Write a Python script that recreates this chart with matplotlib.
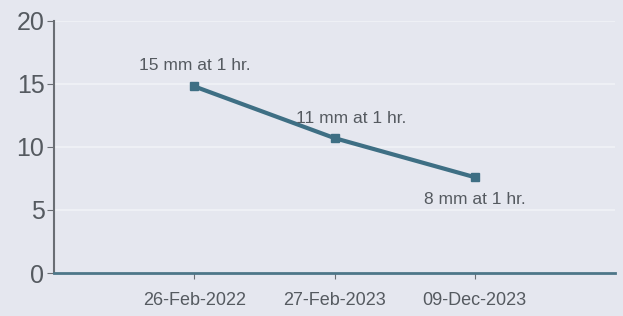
import numpy as np
import matplotlib.pyplot as plt

dates = ["26-Feb-2022", "27-Feb-2023", "09-Dec-2023"]
esr_values = [14.8, 10.7, 7.6]
point_labels = ["15 mm at 1 hr.", "11 mm at 1 hr.", "8 mm at 1 hr."]
y_ticks = [0, 5, 10, 15, 20]

plt.rcParams['font.family'] = ['Liberation Sans', 'DejaVu Sans']

bg = "#e5e7ef"
line_color = "#3e6f84"
text_color = "#555a60"

fig = plt.figure(figsize=(6.23, 3.16), dpi=100, facecolor=bg)
ax = fig.add_axes([0.087, 0.136, 0.900, 0.798], facecolor=bg)

x = np.arange(1, len(dates) + 1)
ax.plot(x, esr_values, color=line_color, linewidth=3, marker='s', markersize=6)

# data labels: first above, second above-right, third below
offsets = [(0, 15), (12, 14), (0, -16)]
for xi, yi, lab, off in zip(x, esr_values, point_labels, offsets):
    ax.annotate(lab, (xi, yi), xytext=off, textcoords='offset points',
                ha='center', va='center', fontsize=12.5, color=text_color)

ax.set_xlim(0, 4)
ax.set_ylim(0, 20)
ax.set_xticks(x)
ax.set_xticklabels(dates, fontsize=13, color=text_color)
ax.set_yticks(y_ticks)
ax.set_yticklabels([str(v) for v in y_ticks], fontsize=18, color=text_color)
ax.yaxis.grid(True, color="#f1f2f7", linewidth=1.2)
ax.set_axisbelow(True)

for s in ["top", "right"]:
    ax.spines[s].set_visible(False)
ax.spines["left"].set_color("#6a6e74")
ax.spines["left"].set_linewidth(1.5)
ax.spines["bottom"].set_color("#4d7688")
ax.spines["bottom"].set_linewidth(2)
ax.tick_params(axis='y', length=5, color="#6a6e74", pad=2)
ax.tick_params(axis='x', length=4, color="#6a6e74", pad=10)

plt.savefig("out.png", dpi=100, facecolor=bg)
